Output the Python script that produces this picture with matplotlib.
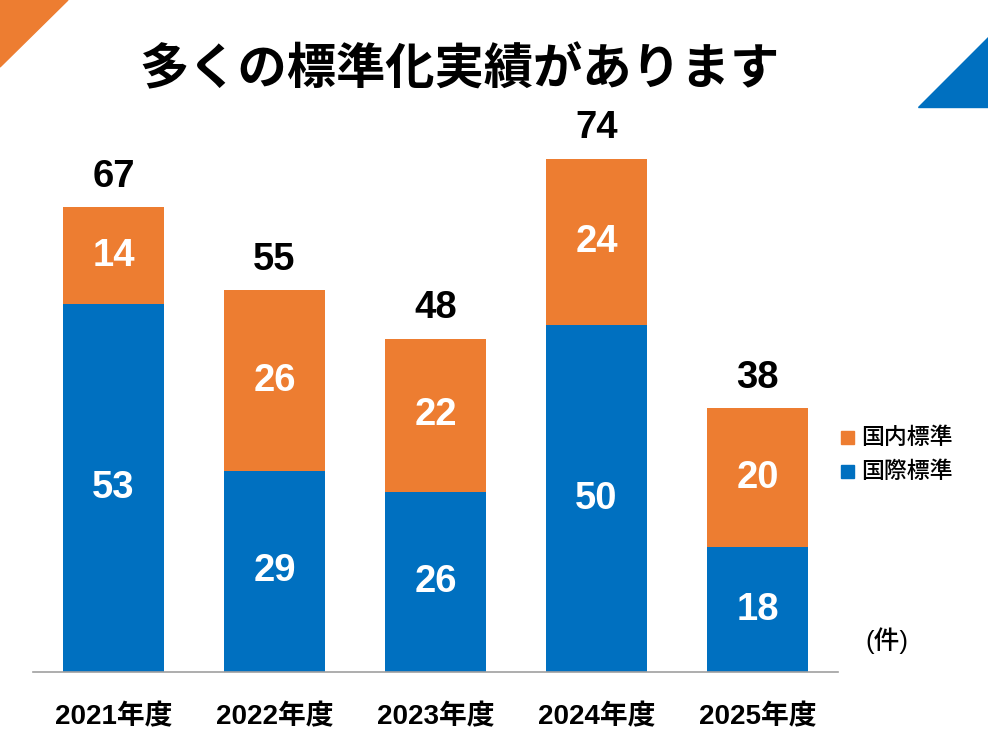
import matplotlib.pyplot as plt
from matplotlib.patches import Polygon
import numpy as np

years = ["2021年度", "2022年度", "2023年度", "2024年度", "2025年度"]
intl = [53, 29, 26, 50, 18]
domestic = [14, 26, 22, 24, 20]
totals = [67, 55, 48, 74, 38]

blue = "#0070C0"
orange = "#ED7D31"
fam = ["Liberation Sans", "Noto Sans CJK JP"]
plt.rcParams["font.family"] = fam

fig = plt.figure(figsize=(9.88, 7.41), dpi=100)
ax = fig.add_axes([33 / 988, 69 / 741, 805 / 988, 555 / 741])

x = np.arange(len(years))
w = 0.627
ax.bar(x, intl, w, color=blue, label="国際標準")
ax.bar(x, domestic, w, bottom=intl, color=orange, label="国内標準")

for i in range(len(x)):
    ax.text(x[i], intl[i] / 2, str(intl[i]), ha="center", va="center",
            color="white", fontsize=27.5, fontweight="bold")
    ax.text(x[i], intl[i] + domestic[i] / 2, str(domestic[i]), ha="center",
            va="center", color="white", fontsize=27.5, fontweight="bold")
    ax.text(x[i], totals[i] + 4.4, str(totals[i]), ha="center", va="center",
            color="black", fontsize=27.5, fontweight="bold")

ax.set_xlim(-0.5, 4.5)
ax.set_ylim(0, 80)
ax.set_xticks(x)
ax.set_xticklabels(years, fontsize=20, fontweight="bold")
ax.tick_params(axis="x", length=0, pad=23)
ax.set_yticks([])
for s in ["top", "right", "left"]:
    ax.spines[s].set_visible(False)
ax.spines["bottom"].set_color("#a0a0a0")
ax.spines["bottom"].set_linewidth(1.2)

# legend drawn by hand in figure coords
fig.patches.append(plt.Rectangle((841 / 988, 1 - 444 / 741), 13 / 988, 13 / 741,
                                 transform=fig.transFigure, color=orange))
fig.text(861 / 988, 1 - 437 / 741, "国内標準", fontsize=16.5, va="center",
         fontweight="medium")
fig.patches.append(plt.Rectangle((841 / 988, 1 - 478 / 741), 13 / 988, 13 / 741,
                                 transform=fig.transFigure, color=blue))
fig.text(861 / 988, 1 - 471 / 741, "国際標準", fontsize=16.5, va="center",
         fontweight="medium")
fig.text(887 / 988, 1 - 641 / 741, "(件)", fontsize=18.5, ha="center", va="center",
         fontweight="medium")

fig.text(460 / 988, 1 - 71 / 741, "多くの標準化実績があります", fontsize=35.5,
         fontweight="bold", ha="center", va="center")

# corner triangles
fig.patches.append(Polygon([(0, 1), (68 / 988, 1), (0, 1 - 67 / 741)],
                           closed=True, transform=fig.transFigure, color=orange))
fig.patches.append(Polygon([(918 / 988, 1 - 107 / 741), (1, 1 - 107 / 741), (1, 1 - 37 / 741)],
                           closed=True, transform=fig.transFigure, color=blue))

fig.savefig("out.png", dpi=100)
